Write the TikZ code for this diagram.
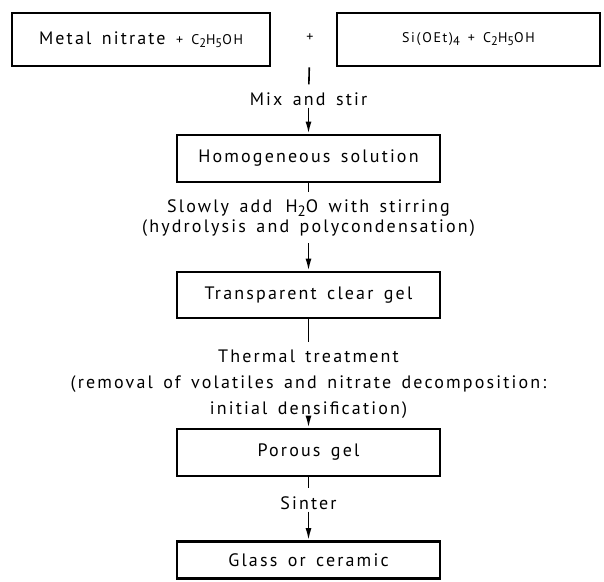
\documentclass[tikz,border=0pt]{standalone}
\usepackage{fontspec}
\setmainfont{PT Sans}[LetterSpace=12, WordSpace=1.5]
\usetikzlibrary{arrows.meta}
\newcommand{\chsub}[1]{\raisebox{-0.45ex}{\fontsize{12.5}{12.5}\selectfont #1}}
\newcommand{\bigsub}[1]{\raisebox{-0.45ex}{\fontsize{15}{15}\selectfont #1}}
\newcommand{\smalltxt}{\fontsize{14}{16}\selectfont}

\begin{document}
\begin{tikzpicture}[x=1pt,y=-1pt,
		stagebox/.style={draw, line width=2.8pt, minimum width=263pt, minimum height=47pt, inner sep=0pt, font=\fontsize{18}{20}\selectfont},
		steptext/.style={align=center, inner sep=2pt, font=\fontsize{18}{21}\selectfont},
		link/.style={line width=1.6pt},
		flow/.style={line width=1.6pt, -{Latex[length=12pt,width=6pt]}}]
		\useasboundingbox (0,0) rectangle (604,581);

		% --- TOP: the two starting solutions ---
		\node[stagebox, minimum width=258pt, minimum height=53pt] (nitrate) at (141,39.5)
			{Metal nitrate {\smalltxt + C\chsub{2}H\chsub{5}OH}};
		\node[stagebox, minimum height=53pt] (teos) at (468.5,39.5)
			{\smalltxt Si(OEt)\chsub{4} + C\chsub{2}H\chsub{5}OH};
		\node[font=\smalltxt] (plus) at (310,38) {+};

		% --- MIDDLE: the gel route ---
		\node[steptext] (mix) at (308.5,99) {Mix and stir};
		\node[stagebox] (homog) at (308.5,158.5) {Homogeneous solution};
		\node[steptext] (slow) at (308.5,218.5)
			{Slowly add \,H\bigsub{2}O with stirring\\[-1pt] (hydrolysis and polycondensation)};
		\node[stagebox, minimum height=46pt] (clear) at (308.5,295) {Transparent clear gel};
		\node[steptext, font=\fontsize{18}{26}\selectfont] (thermal) at (308.5,384)
			{Thermal treatment\\ (removal of volatiles and nitrate decomposition:\\ initial densification)};
		\node[stagebox] (porous) at (308.5,452.5) {Porous gel};
		\node[steptext] (sinter) at (308.5,503) {Sinter};
		\node[stagebox, minimum height=37pt] (glass) at (308.5,560) {Glass or ceramic};

		% --- connectors ---
		\draw[link, shorten <=22pt, shorten >=6pt] (plus) -- (mix);
		\draw[flow] (mix) -- (homog);
		\draw[link, shorten >=6pt] (homog) -- (slow);
		\draw[flow, shorten <=4pt] (slow) -- (clear);
		\draw[link, shorten >=6pt] (clear) -- (thermal);
		\draw[flow] (thermal) -- (porous);
		\draw[link, shorten >=6pt] (porous) -- (sinter);
		\draw[flow] (sinter) -- (glass);
	\end{tikzpicture}
\end{document}
